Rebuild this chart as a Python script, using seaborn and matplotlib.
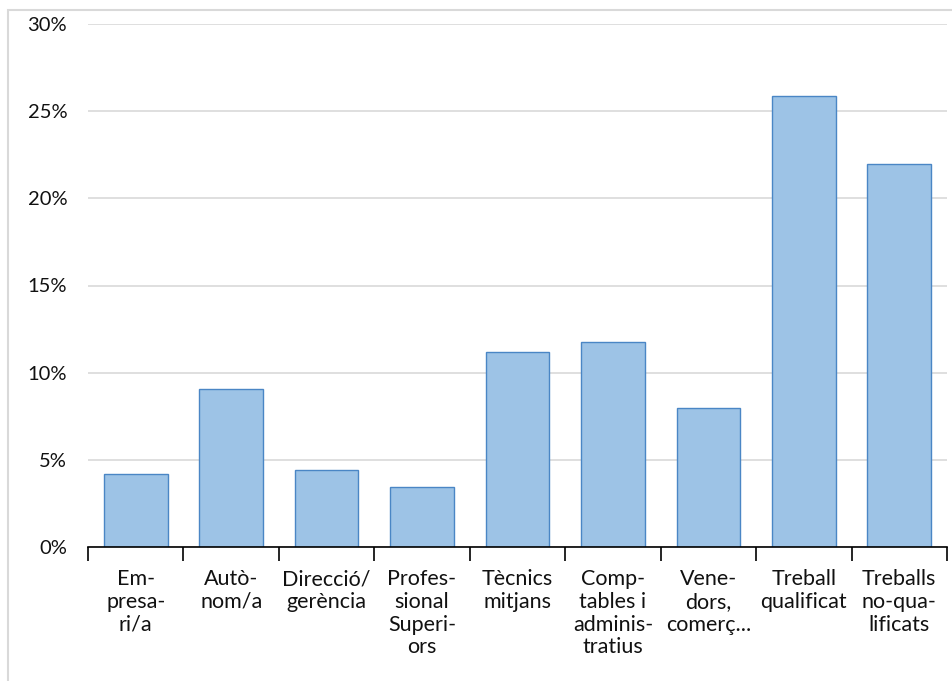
import matplotlib
matplotlib.use("Agg")
import matplotlib.pyplot as plt
import matplotlib.ticker as mtick
from matplotlib.patches import Rectangle
import seaborn as sns
import pandas as pd

categories = [
    "Em-\npresa-\nri/a",
    "Autò-\nnom/a",
    "Direcció/\ngerència",
    "Profes-\nsional\nSuperi-\nors",
    "Tècnics\nmitjans",
    "Comp-\ntables i\nadminis-\ntratius",
    "Vene-\ndors,\ncomerç...",
    "Treball\nqualificat",
    "Treballs\nno-qua-\nlificats",
]
values = [4.17, 9.08, 4.40, 3.42, 11.19, 11.78, 7.97, 25.86, 21.98]
y_ticks = [0, 5, 10, 15, 20, 25, 30]

df = pd.DataFrame({"categoria": categories, "valor": values})

sns.set_theme(style="white")
plt.rcParams["font.family"] = ["Lato", "DejaVu Sans"]

fig = plt.figure(figsize=(9.53, 6.81), dpi=100)
ax = fig.add_axes([88 / 953, 1 - 547 / 681, (947 - 88) / 953, (547 - 24) / 681])

sns.barplot(data=df, x="categoria", y="valor", color="#9DC3E6",
            edgecolor="#4A86C5", linewidth=1.0, width=0.667, saturation=1, ax=ax)

ax.set_ylim(0, 30)
ax.set_xlim(-0.5, len(categories) - 0.5)
ax.set_yticks(y_ticks)
ax.yaxis.set_major_formatter(mtick.FuncFormatter(lambda v, p: f"{v:.0f}%"))
ax.grid(axis="y", color="#D9D9D9", linewidth=1.2)
ax.set_axisbelow(True)
ax.set_xlabel("")
ax.set_ylabel("")

for s in ["top", "right", "left"]:
    ax.spines[s].set_visible(False)
ax.spines["bottom"].set_color("black")
ax.spines["bottom"].set_linewidth(1.2)

# ticks between the categories
ax.set_xticks([i - 0.5 for i in range(len(categories) + 1)], minor=False)
ax.set_xticklabels([])
ax.tick_params(axis="x", which="major", direction="out", length=10, width=1.2, color="black", bottom=True)
ax.set_xticks(range(len(categories)), minor=True)
ax.set_xticklabels(categories, minor=True, fontsize=15.5, linespacing=1.17, va="top")
ax.tick_params(axis="x", which="minor", length=0, pad=16, labelcolor="#111111")
ax.tick_params(axis="y", length=0, labelsize=14.5, pad=15, labelcolor="#111111")

# chart frame
fig.patches.append(Rectangle((8 / 953, -0.05), 1.2, 1 - 10.5 / 681 + 0.05,
                             transform=fig.transFigure, fill=False,
                             edgecolor="#D9D9D9", linewidth=1.5, zorder=-1))

fig.savefig("out.png", dpi=100)
